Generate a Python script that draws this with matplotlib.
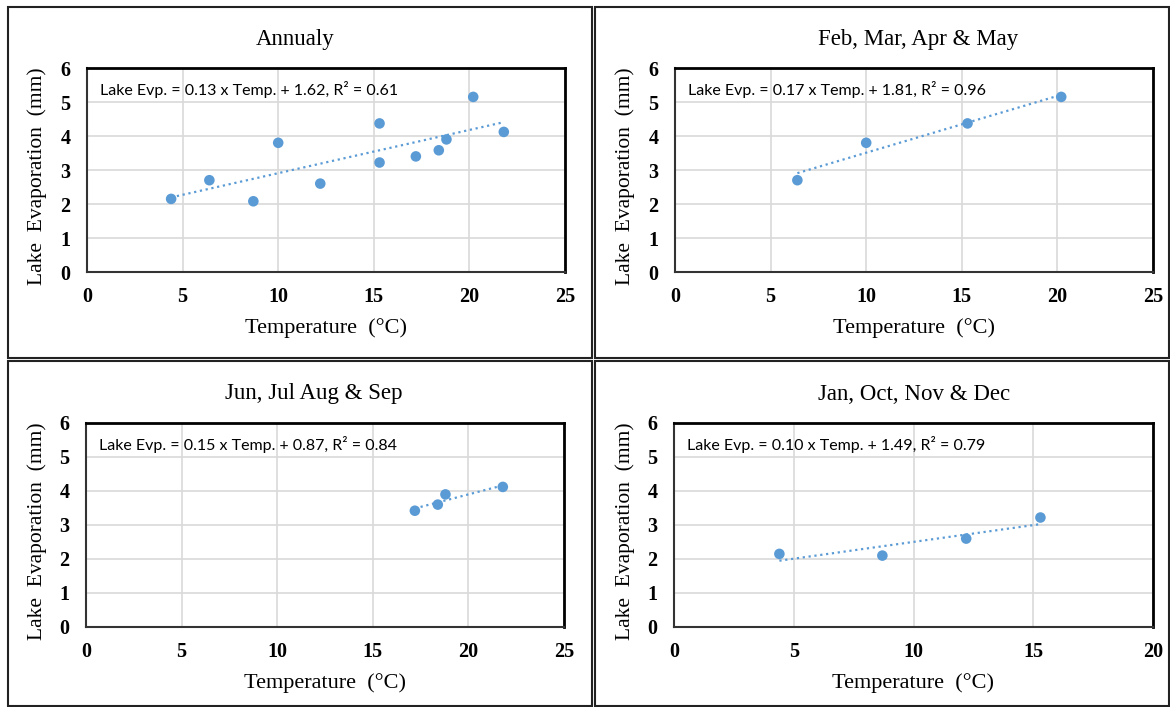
import numpy as np
import matplotlib
matplotlib.use('Agg')
import matplotlib.pyplot as plt
from matplotlib.patches import Rectangle

# data
annual_t = [4.4, 6.4, 8.7, 10.0, 12.2, 15.3, 15.3, 17.2, 18.4, 18.8, 20.2, 21.8]
annual_e = [2.15, 2.70, 2.08, 3.80, 2.60, 4.37, 3.22, 3.40, 3.58, 3.90, 5.15, 4.12]
fmam_t = [6.4, 10.0, 15.3, 20.2]
fmam_e = [2.70, 3.80, 4.37, 5.15]
jjas_t = [17.2, 18.4, 18.8, 21.8]
jjas_e = [3.42, 3.60, 3.90, 4.12]
jond_t = [4.4, 8.7, 12.2, 15.3]
jond_e = [2.15, 2.10, 2.60, 3.22]

titles = ['Annualy', 'Feb, Mar, Apr & May', 'Jun, Jul Aug & Sep', 'Jan, Oct, Nov & Dec']
eqns = ['Lake Evp. = 0.13 x Temp. + 1.62, R² = 0.61',
        'Lake Evp. = 0.17 x Temp. + 1.81, R² = 0.96',
        'Lake Evp. = 0.15 x Temp. + 0.87, R² = 0.84',
        'Lake Evp. = 0.10 x Temp. + 1.49, R² = 0.79']
xmaxs = [25, 25, 25, 20]

W, H = 1170, 707
fig = plt.figure(figsize=(W/100, H/100), dpi=100)

def fx(px):
    return px/W
def fy(py):
    return 1 - py/H

# panel frames (pixels: left, top, right, bottom)
frames = [(8, 7, 592, 358), (595, 7, 1169, 358), (8, 361, 592, 706), (595, 361, 1169, 706)]
for l, t, r, b in frames:
    fig.patches.append(Rectangle((fx(l), fy(b)), fx(r-l), (b-t)/H, transform=fig.transFigure,
                                 fill=False, edgecolor='#222222', lw=1.5))

# axes boxes (pixels)
boxes = [(87, 68, 565, 272), (675, 68, 1153, 272), (86, 423, 564, 627), (674, 423, 1153, 627)]
title_x = [295, 918, 314, 914]
title_y = [40, 40, 394, 394]
ylab_x = [37, 625, 37, 625]

blue = '#5B9BD5'
serif = ['Liberation Serif', 'DejaVu Serif']
data = [(annual_t, annual_e), (fmam_t, fmam_e), (jjas_t, jjas_e), (jond_t, jond_e)]

for k, (l, t, r, b) in enumerate(boxes):
    ax = fig.add_axes([fx(l), fy(b), fx(r-l), (b-t)/H])
    x, y = np.array(data[k][0]), np.array(data[k][1])
    ax.set_xlim(0, xmaxs[k])
    ax.set_ylim(0, 6)
    ax.set_xticks(np.arange(0, xmaxs[k]+1, 5))
    ax.set_yticks(np.arange(0, 7, 1))
    ax.grid(True, color='#D9D9D9', lw=1.2)
    ax.set_axisbelow(True)
    for s in ['top', 'right']:
        ax.spines[s].set_linewidth(2.0)
        ax.spines[s].set_color('black')
    for s in ['left', 'bottom']:
        ax.spines[s].set_linewidth(1.5)
        ax.spines[s].set_color('#333333')
    ax.tick_params(axis='x', length=0, pad=11)
    ax.tick_params(axis='y', length=0, pad=12)
    for lab in ax.get_xticklabels() + ax.get_yticklabels():
        lab.set_family(serif)
        lab.set_fontweight('bold')
        lab.set_fontsize(14.5)

    # linear trend line
    p = np.polyfit(x, y, 1)
    xx = np.array([x.min(), x.max()])
    ax.plot(xx, np.polyval(p, xx), ls=':', color=blue, lw=1.6, zorder=2)
    ax.scatter(x, y, s=58, color=blue, zorder=3, edgecolors='none')

    ax.text(0.027, 0.895, eqns[k], transform=ax.transAxes, fontsize=11.5,
            family=['Lato', 'DejaVu Sans'], va='center', ha='left')

    ax.set_xlabel('Temperature  (°C)', family=serif, fontsize=16, labelpad=8)
    ax.set_ylabel('Lake  Evaporation  (mm)', family=serif, fontsize=15.5)
    ax.yaxis.set_label_coords(-(l - ylab_x[k])/(r - l), 0.47)
    ax.yaxis.label.set_va('center')
    fig.text(fx(title_x[k]), fy(title_y[k]), titles[k], family=serif, fontsize=16.5,
             ha='center', va='center')

fig.savefig('out.png', dpi=100)
